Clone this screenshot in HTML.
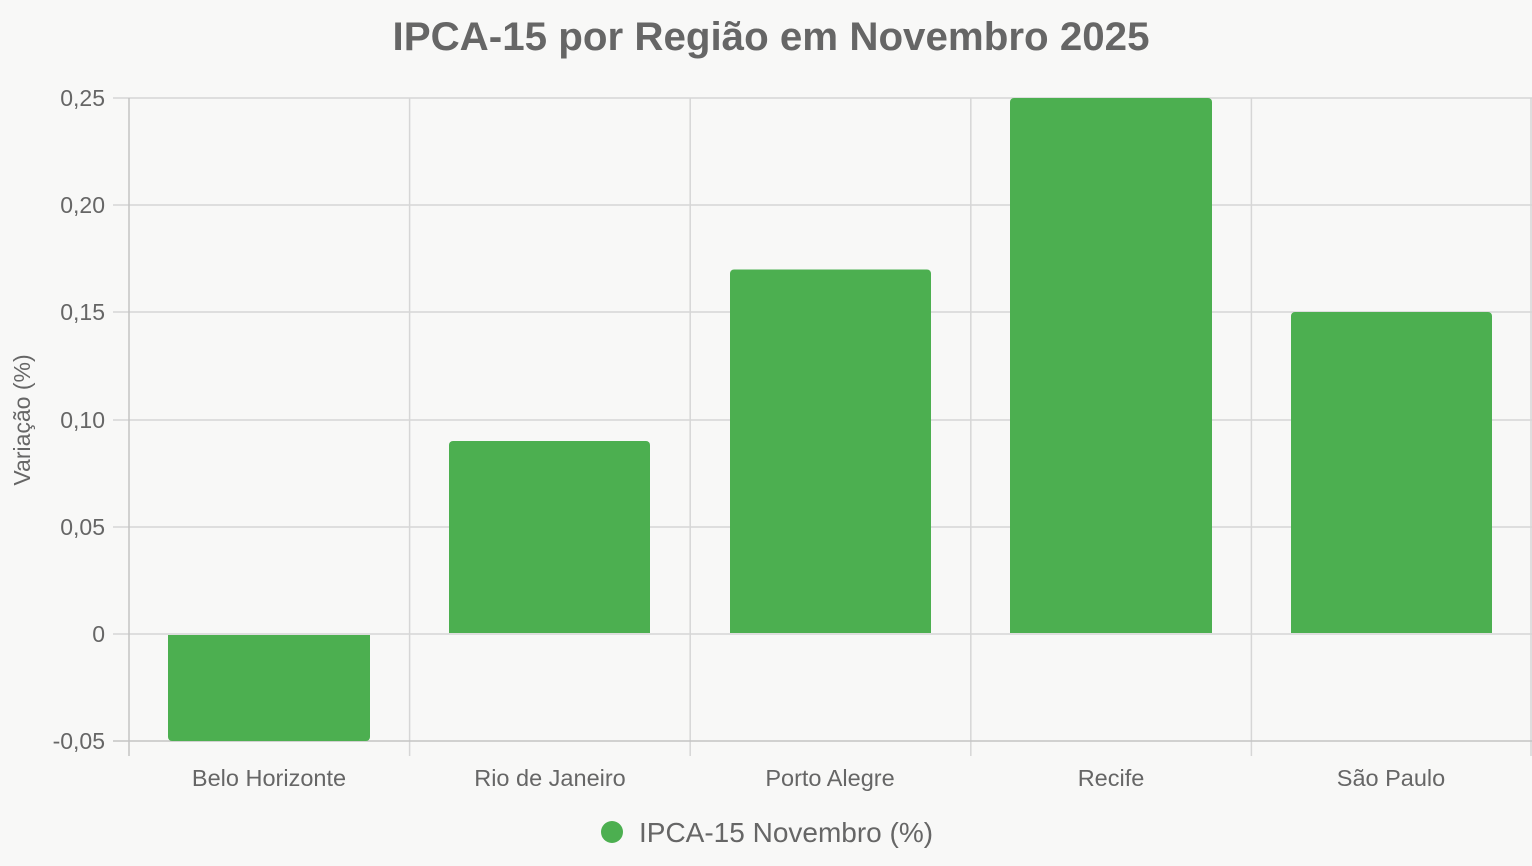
<!DOCTYPE html>
<html><head><meta charset="utf-8"><style>
html,body{margin:0;padding:0;background:#f8f8f7;}
svg{display:block;font-family:"Liberation Sans",Arial,sans-serif;}
</style></head><body>
<svg width="1532" height="866" viewBox="0 0 1532 866">
<rect width="1532" height="866" fill="#f8f8f7"/>
<text x="771" y="50" text-anchor="middle" font-size="40" font-weight="bold" fill="#666" textLength="757" lengthAdjust="spacingAndGlyphs">IPCA-15 por Região em Novembro 2025</text>
<g stroke="#d6d6d6" stroke-width="1.5">
<line x1="113" y1="98" x2="1532" y2="98"/>
<line x1="113" y1="205" x2="1532" y2="205"/>
<line x1="113" y1="312" x2="1532" y2="312"/>
<line x1="113" y1="420" x2="1532" y2="420"/>
<line x1="113" y1="527" x2="1532" y2="527"/>
<line x1="113" y1="634" x2="1532" y2="634"/>
<line x1="409.6" y1="98" x2="409.6" y2="756"/>
<line x1="690.2" y1="98" x2="690.2" y2="756"/>
<line x1="970.8" y1="98" x2="970.8" y2="756"/>
<line x1="1251.4" y1="98" x2="1251.4" y2="756"/>
<line x1="1531" y1="98" x2="1531" y2="756"/>
</g>
<g stroke="#c4c4c4" stroke-width="1.5">
<line x1="113" y1="741" x2="1532" y2="741"/>
<line x1="129" y1="98" x2="129" y2="756"/>
</g>
<g fill="#4caf50">
<path d="M168 635 H370 V737 a4 4 0 0 1 -4 4 H172 a4 4 0 0 1 -4 -4 Z"/>
<path d="M449 633 V445 a4 4 0 0 1 4 -4 H646 a4 4 0 0 1 4 4 V633 Z"/>
<path d="M730 633 V273.5 a4 4 0 0 1 4 -4 H927 a4 4 0 0 1 4 4 V633 Z"/>
<path d="M1010 633 V102 a4 4 0 0 1 4 -4 H1208 a4 4 0 0 1 4 4 V633 Z"/>
<path d="M1291 633 V316 a4 4 0 0 1 4 -4 H1488 a4 4 0 0 1 4 4 V633 Z"/>
</g>
<g font-size="23" fill="#666" text-anchor="end">
<text x="105" y="106">0,25</text>
<text x="105" y="213">0,20</text>
<text x="105" y="320">0,15</text>
<text x="105" y="428">0,10</text>
<text x="105" y="535">0,05</text>
<text x="105" y="642">0</text>
<text x="105" y="749">-0,05</text>
</g>
<text transform="translate(30,420) rotate(-90)" text-anchor="middle" font-size="23" fill="#666">Variação (%)</text>
<g font-size="23.5" fill="#666" text-anchor="middle">
<text x="269" y="786">Belo Horizonte</text>
<text x="550" y="786">Rio de Janeiro</text>
<text x="830" y="786">Porto Alegre</text>
<text x="1111" y="786">Recife</text>
<text x="1391" y="786">São Paulo</text>
</g>
<circle cx="612" cy="832" r="11" fill="#4caf50"/>
<text x="639" y="842" font-size="28" fill="#666">IPCA-15 Novembro (%)</text>
</svg>
</body></html>
